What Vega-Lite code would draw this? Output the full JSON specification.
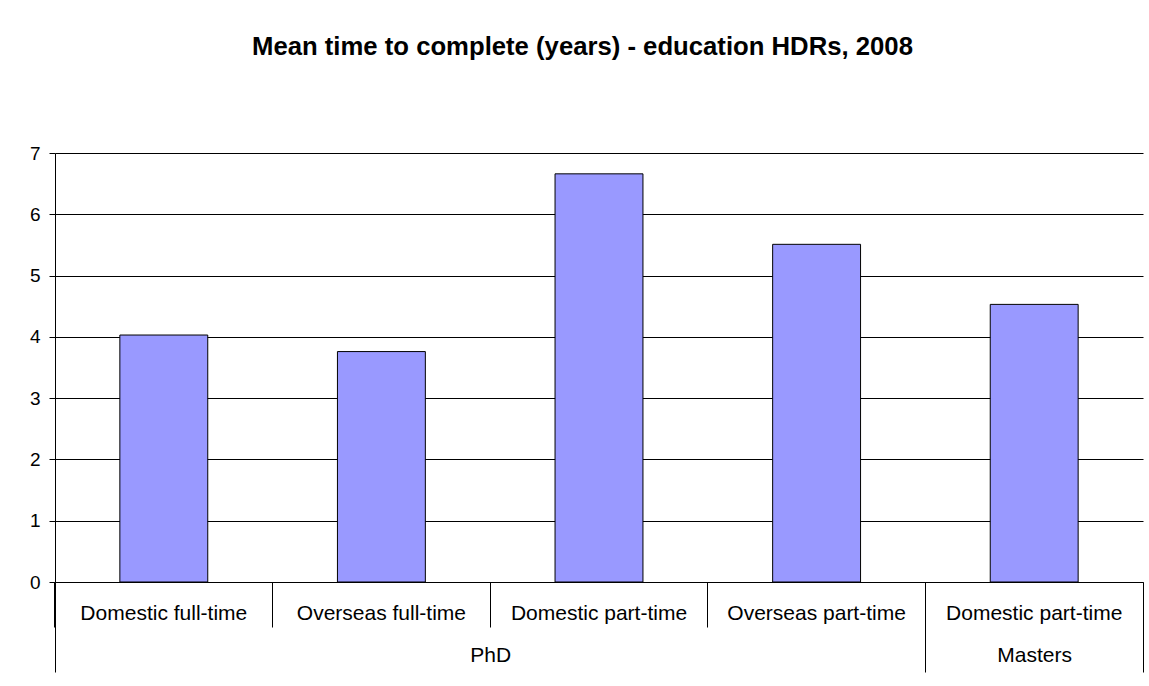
{
  "$schema": "https://vega.github.io/schema/vega-lite/v6.json",
  "width": 1088,
  "height": 429,
  "autosize": {"type": "none"},
  "padding": {"left": 55, "top": 153, "right": 6, "bottom": 104},
  "background": "white",
  "config": {"view": {"stroke": null}, "font": "Liberation Sans"},
  "title": {
    "text": "Mean time to complete (years) - education HDRs, 2008",
    "font": "Liberation Sans",
    "fontSize": 25.7,
    "fontWeight": "bold",
    "color": "black",
    "anchor": "middle",
    "frame": "bounds",
    "baseline": "alphabetic",
    "offset": 63,
    "dx": -4
  },
  "datasets": {
    "bars": [
      {"program": "PhD", "mode": "Domestic full-time", "category": "PhD|Domestic full-time", "years": 4.03},
      {"program": "PhD", "mode": "Overseas full-time", "category": "PhD|Overseas full-time", "years": 3.76},
      {"program": "PhD", "mode": "Domestic part-time", "category": "PhD|Domestic part-time", "years": 6.66},
      {"program": "PhD", "mode": "Overseas part-time", "category": "PhD|Overseas part-time", "years": 5.51},
      {"program": "Masters", "mode": "Domestic part-time", "category": "Masters|Domestic part-time", "years": 4.53}
    ],
    "groups": [
      {"program": "PhD", "start": 0, "end": 4},
      {"program": "Masters", "start": 4, "end": 5}
    ]
  },
  "layer": [
    {
      "data": {"name": "bars"},
      "mark": {"type": "bar", "fill": "#9999FF", "stroke": "#000000", "strokeWidth": 1},
      "encoding": {
        "x": {
          "field": "category",
          "type": "nominal",
          "sort": null,
          "scale": {"paddingInner": 0.596, "paddingOuter": 0.298},
          "axis": {
            "orient": "bottom",
            "title": null,
            "labelExpr": "split(datum.label, '|')[1]",
            "labelAngle": 0,
            "bandPosition": -0.7378,
            "tickSize": 45,
            "tickColor": "black",
            "domainColor": "black",
            "grid": false,
            "labelPadding": -25,
            "labelBaseline": "top",
            "labelFontSize": 21,
            "labelColor": "black",
            "labelFont": "Liberation Sans"
          }
        },
        "y": {
          "field": "years",
          "type": "quantitative",
          "scale": {"domain": [0, 7], "nice": false},
          "axis": {
            "title": null,
            "values": [0, 1, 2, 3, 4, 5, 6, 7],
            "grid": true,
            "gridColor": "black",
            "gridOpacity": 1,
            "domainColor": "black",
            "tickColor": "black",
            "tickSize": 6,
            "labelPadding": 9,
            "labelFontSize": 19,
            "labelColor": "black",
            "labelFont": "Liberation Sans"
          }
        }
      }
    },
    {
      "data": {"name": "groups"},
      "mark": {"type": "rect", "opacity": 0},
      "encoding": {
        "x": {
          "field": "start",
          "type": "quantitative",
          "scale": {"domain": [0, 5], "nice": false, "zero": false},
          "axis": {
            "orient": "bottom",
            "title": null,
            "values": [0, 2, 4, 4.5, 5],
            "labelExpr": "datum.value == 2 ? 'PhD' : datum.value == 4.5 ? 'Masters' : ''",
            "tickOpacity": {"condition": {"test": "datum.value == 2 || datum.value == 4.5", "value": 0}, "value": 1},
            "tickSize": 90,
            "tickColor": "black",
            "domain": false,
            "grid": false,
            "labelPadding": -28,
            "labelBaseline": "top",
            "labelFlush": false,
            "labelOverlap": false,
            "labelFontSize": 21,
            "labelColor": "black",
            "labelFont": "Liberation Sans"
          }
        },
        "x2": {"field": "end"}
      }
    }
  ],
  "resolve": {"scale": {"x": "independent"}}
}
